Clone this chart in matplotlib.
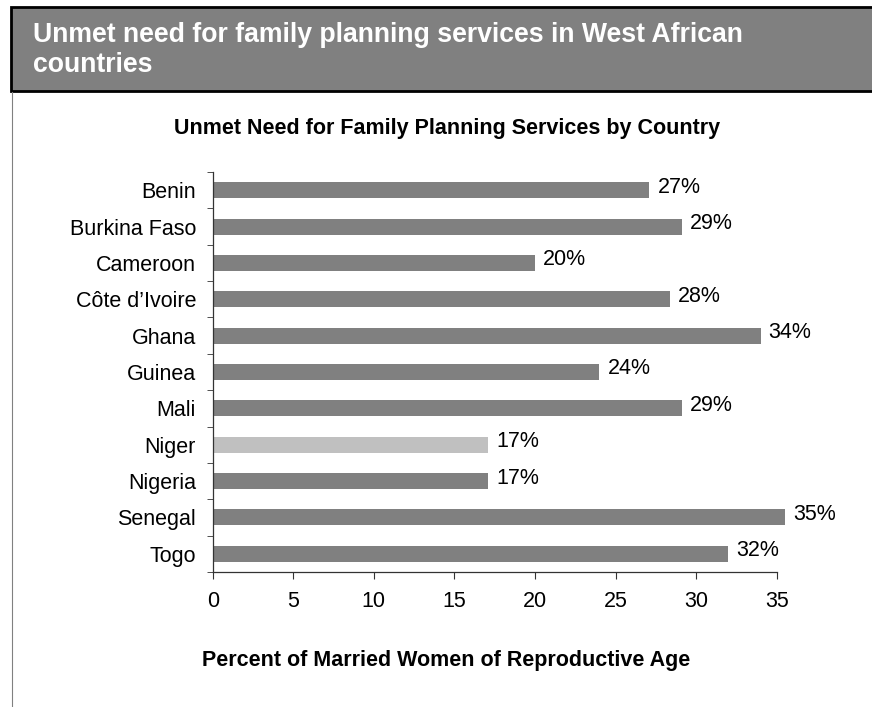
import matplotlib
matplotlib.use("Agg")
import matplotlib.pyplot as plt
from matplotlib.patches import Rectangle
from matplotlib.lines import Line2D

plt.rcParams['font.family'] = ['Liberation Sans', 'DejaVu Sans']

countries = ["Benin", "Burkina Faso", "Cameroon", "Côte d’Ivoire", "Ghana", "Guinea",
             "Mali", "Niger", "Nigeria", "Senegal", "Togo"]
unmet = [27.1, 29.1, 20.0, 28.4, 34.0, 24.0, 29.1, 17.1, 17.1, 35.5, 32.0]
labels = ["27%", "29%", "20%", "28%", "34%", "24%", "29%", "17%", "17%", "35%", "32%"]
highlight = "Niger"
xticks = [0, 5, 10, 15, 20, 25, 30, 35]

W, H = 872, 707
fig = plt.figure(figsize=(W / 100, H / 100), dpi=100)

# header band
fig.patches.append(Rectangle((11.3 / W, 1 - 91.2 / H), 1.0, (91.2 - 6.7) / H,
                             transform=fig.transFigure, facecolor="#808080",
                             edgecolor="black", linewidth=2.0))
fig.lines.append(Line2D([11.5 / W, 11.5 / W], [0, 1 - 92 / H], transform=fig.transFigure,
                        color="#808080", linewidth=0.8))
fig.text(33 / W, 1 - 41.7 / H, "Unmet need for family planning services in West African",
         color="white", fontsize=19.2, fontweight="bold", va="baseline", ha="left")
fig.text(33 / W, 1 - 71.7 / H, "countries",
         color="white", fontsize=19.2, fontweight="bold", va="baseline", ha="left")

fig.text(447 / W, 1 - 134 / H, "Unmet Need for Family Planning Services by Country",
         fontsize=15.5, fontweight="bold", ha="center", va="baseline")
fig.text(446 / W, 1 - 666 / H, "Percent of Married Women of Reproductive Age",
         fontsize=15.5, fontweight="bold", ha="center", va="baseline")

ax = fig.add_axes([212.7 / W, 1 - 572 / H, (776.7 - 212.7) / W, 400 / H])
ypos = list(range(len(countries)))
colors = ["#c0c0c0" if c == highlight else "#808080" for c in countries]
bars = ax.barh(ypos, unmet, height=0.44, color=colors, clip_on=False)
for b, lab in zip(bars, labels):
    ax.annotate(lab, (b.get_width(), b.get_y() + b.get_height() / 2),
                xytext=(8, 3), textcoords="offset pixels", va="center", ha="left",
                fontsize=15.5, annotation_clip=False)

ax.set_xlim(0, 35)
ax.set_ylim(len(countries) - 0.5, -0.5)
ax.set_xticks(xticks)
ax.set_yticks(ypos)
ax.set_yticklabels(countries)
ax.set_yticks([i - 0.5 for i in range(len(countries) + 1)], minor=True)
ax.tick_params(axis="y", which="major", length=0, pad=12, labelsize=15.5)
ax.tick_params(axis="y", which="minor", length=4, direction="out", color="#333333")
ax.tick_params(axis="x", length=5, direction="out", pad=9, labelsize=15.5, color="#333333")
for s in ["top", "right"]:
    ax.spines[s].set_visible(False)
for s in ["left", "bottom"]:
    ax.spines[s].set_color("#333333")
    ax.spines[s].set_linewidth(0.9)

fig.savefig("out.png", dpi=100)
